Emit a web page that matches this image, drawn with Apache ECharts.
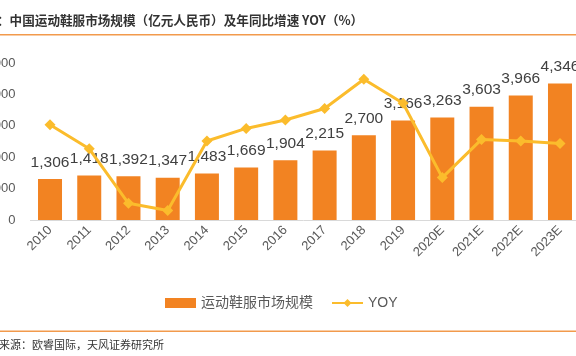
<!DOCTYPE html>
<html><head><meta charset="utf-8">
<script src="https://cdn.jsdelivr.net/npm/echarts@6/dist/echarts.min.js"></script>
<style>html,body{margin:0;padding:0;background:#fff}#c{width:576px;height:356px}</style>
</head><body><div id="c"></div>
<script>
const categories = ['2010','2011','2012','2013','2014','2015','2016','2017','2018','2019','2020E','2021E','2022E','2023E'];
const marketSize = [1306,1418,1392,1347,1483,1669,1904,2215,2700,3166,3263,3603,3966,4346];
const yoy = [13.2,8.6,-1.8,-3.2,10.1,12.5,14.1,16.3,21.9,17.3,3.1,10.4,10.1,9.6];
const barName = '运动鞋服市场规模';
const lineName = 'YOY';
const titleText = '：中国运动鞋服市场规模（亿元人民币）及年同比增速 YOY（%）';
const sourceText = '来源：欧睿国际，天风证券研究所';

const chart = echarts.init(document.getElementById('c'), null, {renderer:'canvas'});
const cjk = '"Liberation Sans", "Noto Sans CJK SC", sans-serif';
chart.setOption({
  animation:false,
  textStyle:{fontFamily:cjk},
  grid:{left:30.4, right:-3.6, top:63, bottom:136, containLabel:false, outerBoundsMode:'none'},
  legend:{
    left:160, top:291, itemGap:18, itemWidth:31, itemHeight:10,
    textStyle:{color:'#595959', fontSize:14, fontFamily:cjk},
    data:[{name:barName, icon:'rect'},{name:lineName}]
  },
  xAxis:{
    type:'category', data:categories,
    axisLine:{lineStyle:{color:'#d9d9d9', width:1}},
    axisTick:{show:false},
    axisLabel:{rotate:45, color:'#595959', fontSize:13, margin:8, interval:0}
  },
  yAxis:[{
    type:'value', min:0, max:5000, interval:1000,
    axisLine:{show:false}, axisTick:{show:false},
    splitLine:{show:false},
    axisLabel:{color:'#595959', fontSize:13, margin:15, formatter:v=>String(v)}
  },{
    type:'value', min:-5, max:25, interval:5, show:false, splitLine:{show:false}
  }],
  series:[{
    name:barName, type:'bar', data:marketSize, barWidth:24,
    itemStyle:{color:'#F28322'},
    label:{show:true, position:'top', distance:9, color:'#404040', fontSize:15.5,
      formatter:p=>p.value.toLocaleString('en-US')}
  },{
    name:lineName, type:'line', yAxisIndex:1, data:yoy,
    symbol:'diamond', symbolSize:11,
    lineStyle:{color:'#FBBC2C', width:3},
    itemStyle:{color:'#FBBC2C'}
  }],
  graphic:[
    {type:'text', left:-3, top:14, style:{text:titleText, fill:'#333', font:'bold 12.6px "Noto Sans CJK SC", sans-serif'}},
    {type:'rect', shape:{x:0, y:34, width:576, height:1.5}, style:{fill:'#F29A4C'}},
    {type:'rect', shape:{x:0, y:330.5, width:576, height:1.5}, style:{fill:'#F29A4C'}},
    {type:'text', left:-1, top:339, style:{text:sourceText, fill:'#333', font:'11px "Noto Sans CJK SC", sans-serif'}}
  ]
});
</script></body></html>
